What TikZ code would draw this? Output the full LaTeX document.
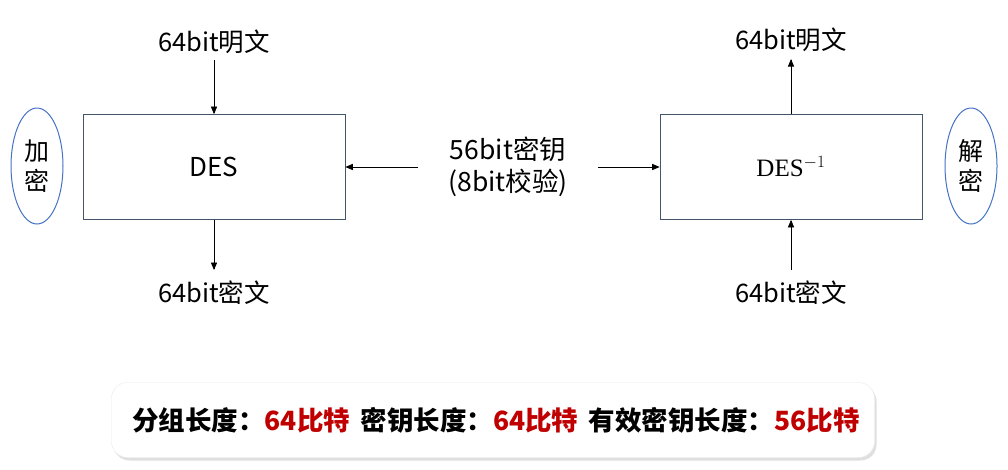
\documentclass[tikz,border=0pt]{standalone}
\usepackage[no-math]{fontspec}
\setmainfont{Noto Sans CJK SC}
\newfontfamily\desfont{Liberation Serif}
\usepackage{amsmath}
\usetikzlibrary{arrows,positioning,shadows,shapes.geometric}
\definecolor{boxline}{HTML}{44546A}
\definecolor{ovline}{HTML}{4472C4}
\definecolor{keyred}{HTML}{C00000}

\begin{document}
\begin{tikzpicture}[x=1pt,y=-1pt,>=triangle 45,
lbl/.style={inner sep=0pt,font=\fontsize{25.5}{29}\selectfont},
blk/.style={draw=boxline,line width=0.8pt,minimum width=262pt,minimum height=105pt,font=\fontsize{26}{30}\selectfont},
oval/.style={draw=ovline,line width=1pt,ellipse,minimum width=52pt,minimum height=116pt,inner sep=0pt,align=center,font=\fontsize{25}{30}\selectfont},
flow/.style={->,line width=0.7pt}]
\useasboundingbox (0,0) rectangle (1008,469);

%encryption side
\node[blk](des) at (214,167) {DES};
\node[lbl](ptin) at (214,42) {64bit明文};
\node[lbl](ctout) at (214,293) {64bit密文};
\node[oval](enc) at (37,166) {加\\密};

%decryption side
\node[blk](dinv) at (791,167) {\fontsize{25}{29}\selectfont{\desfont DES}$^{-1}$};
\node[lbl](ptout) at (791,40) {64bit明文};
\node[lbl](ctin) at (791,293) {64bit密文};
\node[oval](dec) at (971,166) {解\\密};

%key in the middle
\node[lbl,align=center,font=\fontsize{26.5}{32}\selectfont](key) at (508,167) {56bit密钥\\(8bit校验)};

%arrows
\draw[flow] ([yshift=-6pt]ptin.south) -- (des.north);
\draw[flow] (des.south) -- ([yshift=11pt]ctout.north);
\draw[flow] (dinv.north) -- ([yshift=-7pt]ptout.south);
\draw[flow] ([yshift=11pt]ctin.north) -- (dinv.south);
\draw[flow] ([xshift=-30pt]key.west) -- (des.east);
\draw[flow] ([xshift=30pt]key.east) -- (dinv.west);

%summary strip
\node[draw=white!92!black,fill=white,rounded corners=16pt,minimum width=763pt,minimum height=75pt,
drop shadow={opacity=0.25,shadow xshift=2pt,shadow yshift=-3pt},font=\fontsize{26.5}{30}\selectfont\bfseries](sum) at (493,420)
{\hspace{6pt}分组长度：\textcolor{keyred}{64比特}\hspace{0.4em}密钥长度：\textcolor{keyred}{64比特}\hspace{0.4em}有效密钥长度：\textcolor{keyred}{56比特}};
\end{tikzpicture}
\end{document}
